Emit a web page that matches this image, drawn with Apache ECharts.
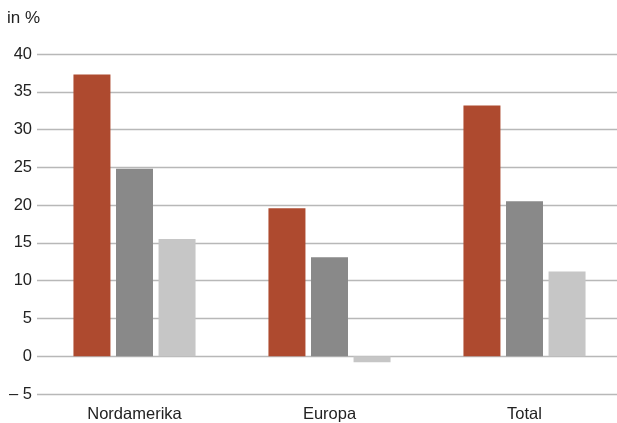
<!DOCTYPE html>
<html>
<head>
<meta charset="utf-8">
<script src="https://cdn.jsdelivr.net/npm/echarts@6/dist/echarts.min.js"></script>
<style>
  html, body { margin: 0; padding: 0; background: #fff; overflow: hidden; }
  #chart { width: 622px; height: 423px; }
</style>
</head>
<body>
<div id="chart"></div>
<script>
const CATEGORIES = ["Nordamerika", "Europa", "Total"];
const SERIES_A = [37.3, 19.6, 33.2];
const SERIES_B = [24.8, 13.1, 20.5];
const SERIES_C = [15.5, -0.8, 11.2];
const COLORS = ["#ae4a2f", "#898989", "#c6c6c6"];

const FONT = "Liberation Sans, Arial, sans-serif";

// plot area runs a few px past the right edge of the window, as in the source
const chart = echarts.init(document.getElementById("chart"));

const seriesData = [SERIES_A, SERIES_B, SERIES_C];

chart.setOption({
  animation: false,
  backgroundColor: "#fff",
  grid: { left: 37, right: 0, top: 54, height: 340 },
  graphic: [{
    type: "text",
    left: 7,
    top: 10,
    style: { text: "in %", fontSize: 17, fontFamily: FONT, fill: "#222" }
  }],
  xAxis: {
    type: "category",
    data: CATEGORIES,
    position: "bottom",
    axisLine: { show: false },
    axisTick: { show: false },
    axisLabel: { margin: 12, fontSize: 16.5, fontFamily: FONT, color: "#222" }
  },
  yAxis: {
    type: "value",
    min: -5,
    max: 40,
    interval: 5,
    axisLine: { show: false },
    axisTick: { show: false },
    axisLabel: {
      margin: 5,
      fontSize: 16.5,
      fontFamily: FONT,
      color: "#222",
      formatter: v => (v < 0 ? "\u2013 " + Math.abs(v) : String(v))
    },
    splitLine: { lineStyle: { color: "#b8b8b8", width: 1.3 } }
  },
  series: seriesData.map((data, i) => ({
    type: "bar",
    data,
    barWidth: 37,
    barGap: "15%",
    itemStyle: { color: COLORS[i] }
  }))
});
</script>
</body>
</html>
